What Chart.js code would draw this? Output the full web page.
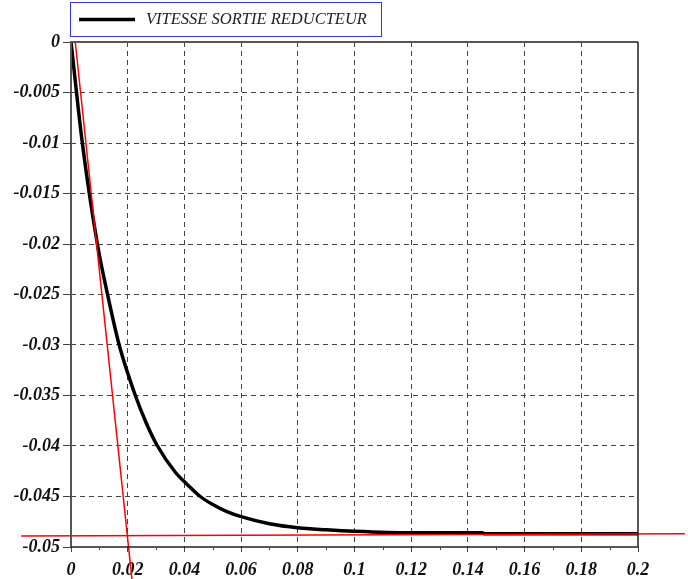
<!DOCTYPE html>
<html lang="fr">
<head>
<meta charset="UTF-8">
<title>Vitesse sortie reducteur</title>
<script src="https://cdn.jsdelivr.net/npm/chart.js"></script>
<style>
  body { margin: 0; background: #fff; }
  #boite { width: 688px; height: 579px; }
</style>
</head>
<body>
<div id="boite"><canvas id="courbe"></canvas></div>
<script>
// points (temps en s)
const temps   = [0, 0.004, 0.0093, 0.0129, 0.017, 0.0227, 0.0265, 0.0303, 0.0368, 0.041, 0.0456, 0.05, 0.055, 0.06, 0.07, 0.08, 0.09, 0.1, 0.12, 0.145, 0.146, 0.2];
const vitesse = [0, -0.01, -0.02, -0.025, -0.03, -0.035, -0.0377, -0.0399, -0.0426, -0.0438, -0.045, -0.0458, -0.0465, -0.047, -0.0477, -0.0481, -0.0483, -0.04845, -0.0486, -0.0486, -0.0487, -0.0487];

// tangente a l'origine et asymptote (traits rouges)
const tangenteT  = [0.0015, 0.0215];
const tangenteV  = [0, -0.0532];
const asymptoteT = [-0.0176, 0.2165];
const asymptoteV = [-0.0489, -0.0487];

const xTicks  = [0, 0.02, 0.04, 0.06, 0.08, 0.1, 0.12, 0.14, 0.16, 0.18, 0.2];
const xLabels = ['0', '0.02', '0.04', '0.06', '0.08', '0.1', '0.12', '0.14', '0.16', '0.18', '0.2'];
const yTicks  = [0, -0.005, -0.01, -0.015, -0.02, -0.025, -0.03, -0.035, -0.04, -0.045, -0.05];
const yLabels = ['0', '-0.005', '-0.01', '-0.015', '-0.02', '-0.025', '-0.03', '-0.035', '-0.04', '-0.045', '-0.05'];

const pts = (xs, ys) => xs.map((x, i) => ({ x: x, y: ys[i] }));

const police = { family: 'Liberation Serif', size: 18, style: 'italic', weight: 'bold' };
const gris = '#444444';
const vide = 'rgba(0,0,0,0)';

// legende encadree en bleu, en haut a gauche
const legende = {
    id: 'legende',
    afterDraw(chart) {
        const c = chart.ctx;
        const ds = chart.data.datasets[2];
        c.save();
        c.strokeStyle = '#3434ff';
        c.lineWidth = 1;
        c.strokeRect(70.5, 2.5, 311, 34);
        c.strokeStyle = ds.borderColor;
        c.lineWidth = 3.5;
        c.beginPath();
        c.moveTo(79, 19.5);
        c.lineTo(135, 19.5);
        c.stroke();
        c.fillStyle = '#222';
        c.font = 'italic 16.5px "Liberation Serif"';
        c.textBaseline = 'middle';
        c.fillText(ds.label, 146, 19.5);
        c.restore();
    }
};

// cadre du graphe + petites graduations sur l'axe des temps
const cadre = {
    id: 'cadre',
    afterDatasetsDraw(chart) {
        const c = chart.ctx;
        const a = chart.chartArea;
        const sx = chart.scales.x;
        c.save();
        c.lineWidth = 2;
        c.strokeStyle = '#555';
        c.beginPath();
        c.moveTo(a.left, a.bottom);
        c.lineTo(a.left, a.top);
        c.lineTo(a.right, a.top);
        c.stroke();
        c.strokeStyle = '#222';
        c.lineWidth = 1.5;
        c.beginPath();
        c.moveTo(a.right, a.top);
        c.lineTo(a.right, a.bottom);
        c.lineTo(a.left, a.bottom);
        c.stroke();
        c.lineWidth = 1;
        c.strokeStyle = gris;
        for (let i = 0; i < xTicks.length - 1; i++) {
            const px = Math.round(sx.getPixelForValue((xTicks[i] + xTicks[i + 1]) / 2)) + 0.5;
            c.beginPath();
            c.moveTo(px, a.bottom);
            c.lineTo(px, a.bottom + 3);
            c.stroke();
        }
        c.restore();
    }
};

const bord = (ctx, a, b) => (ctx.tick && (ctx.tick.value === a || ctx.tick.value === b)) ? vide : gris;

new Chart(document.getElementById('courbe'), {
    type: 'line',
    data: {
        datasets: [
            {
                label: 'tangente',
                data: pts(tangenteT, tangenteV),
                borderColor: '#ff0000',
                borderWidth: 1.5,
                pointRadius: 0,
                clip: false
            },
            {
                label: 'asymptote',
                data: pts(asymptoteT, asymptoteV),
                borderColor: '#ff0000',
                borderWidth: 1.5,
                pointRadius: 0,
                clip: false
            },
            {
                label: 'VITESSE SORTIE REDUCTEUR',
                data: pts(temps, vitesse),
                borderColor: '#000000',
                borderWidth: 3.5,
                pointRadius: 0,
                cubicInterpolationMode: 'monotone'
            }
        ]
    },
    options: {
        responsive: true,
        maintainAspectRatio: false,
        animation: false,
        layout: { padding: { top: 42, right: 50, left: 0, bottom: 0 } },
        plugins: { legend: { display: false }, tooltip: { enabled: false } },
        scales: {
            x: {
                type: 'linear',
                min: 0,
                max: 0.2,
                afterBuildTicks: s => { s.ticks = xTicks.map(v => ({ value: v })); },
                afterFit: s => { s.height = 32; },
                ticks: {
                    callback: (v, i) => xLabels[i],
                    font: police,
                    color: '#111',
                    padding: 8,
                    maxRotation: 0,
                    autoSkip: false
                },
                grid: {
                    color: ctx => bord(ctx, 0, 0.2),
                    tickColor: gris,
                    tickLength: 5,
                    lineWidth: 1
                },
                border: { display: false, dash: [5, 4] }
            },
            y: {
                type: 'linear',
                min: -0.05,
                max: 0,
                afterBuildTicks: s => { s.ticks = yTicks.map(v => ({ value: v })); },
                afterFit: s => { s.width = 71; },
                ticks: {
                    callback: (v, i) => yLabels[i],
                    font: police,
                    color: '#111',
                    padding: 3,
                    autoSkip: false
                },
                grid: {
                    color: ctx => bord(ctx, 0, -0.05),
                    tickColor: gris,
                    tickLength: 8,
                    lineWidth: 1
                },
                border: { display: false, dash: [5, 4] }
            }
        }
    },
    plugins: [legende, cadre]
});
</script>
</body>
</html>
